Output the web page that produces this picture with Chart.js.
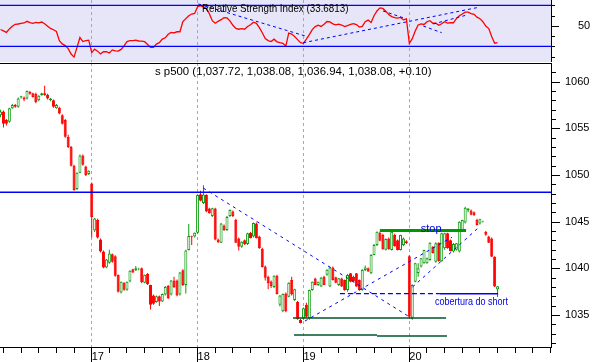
<!DOCTYPE html>
<html>
<head>
<meta charset="utf-8">
<title>s p500</title>
<script src="https://cdn.jsdelivr.net/npm/chart.js@4.4.1/dist/chart.umd.min.js"></script>
<style>
	html, body { margin: 0; padding: 0; background: #fff; }
	#wrap { position: relative; width: 593px; height: 362px; overflow: hidden; }
	#rsiCanvas { position: absolute; left: 0; top: 0; }
	#priceCanvas { position: absolute; left: 0; top: 62px; }
</style>
</head>
<body>
<div id="wrap">
	<canvas id="rsiCanvas" width="593" height="62"></canvas>
	<canvas id="priceCanvas" width="593" height="300"></canvas>
</div>
<script>
// 36 bars per day, bar 0 = first bar of the 17th
const firstBar = -31
const dayStarts = [0, 36, 72, 108]
const dayLabels = ['17', '18', '19', '20']

const opens = [
	1056.4, 1056.8, 1055.9, 1055.7, 1057.15, 1057.5, 1057.3, 1058.3, 1058.3, 1058.2, 1058.9, 1058.75, 1058.7, 1058.0, 1058.55, 1058.75, 1058.6, 1058.0, 1058.0, 1057.15, 1057.2, 1056.4, 1055.9, 1054.1, 1053.0, 1051.0, 1048.5, 1050.25, 1052.1, 1050.9, 1050.1,
	1049.1, 1044.05, 1045.2, 1043.1, 1041.8, 1040.1, 1040.6, 1041.5, 1041.3, 1039.3, 1037.4, 1038.45, 1037.7, 1038.6, 1039.9, 1039.8, 1039.9, 1040.0, 1038.45, 1039.4, 1038.2, 1037.1, 1036.4, 1037.0, 1036.45, 1037.2, 1038.1, 1037.2, 1038.7, 1038.7, 1037.2, 1039.8, 1038.2, 1041.96, 1043.46, 1043.4,
	1043.82, 1047.95, 1047.0, 1047.85, 1046.4, 1045.6, 1046.4, 1043.1, 1042.75, 1044.6, 1044.1, 1045.6, 1046.1, 1045.2, 1043.2, 1042.3, 1043.0, 1042.6, 1043.8, 1043.4, 1044.8, 1043.4, 1042.1, 1040.2, 1039.1, 1038.6, 1038.0, 1039.2, 1036.1, 1035.4, 1037.3, 1036.96, 1038.75, 1036.6, 1036.4, 1034.5,
	1034.65, 1036.1, 1034.65, 1037.68, 1038.9, 1038.22, 1038.04, 1039.1, 1039.3, 1038.04, 1040.1, 1039.05, 1038.22, 1038.9, 1038.75, 1037.68, 1039.47, 1039.1, 1039.47, 1038.75, 1037.68, 1039.82, 1040.0, 1039.47, 1041.43, 1042.5, 1043.8, 1043.6, 1042.0, 1043.2, 1041.97, 1043.6, 1043.0, 1041.97, 1042.5, 1042.9,
	1041.3, 1034.7, 1038.57, 1039.5, 1040.2, 1040.55, 1040.55, 1040.9, 1042.3, 1040.7, 1042.75, 1040.75, 1042.14, 1043.75, 1043.0, 1041.8, 1042.0, 1041.8, 1043.93, 1044.9, 1046.2, 1046.2, 1046.0, 1045.2, 1044.8, 1045.0, 1043.9, 1043.4, 1043.2, 1041.25, 1037.72
]
const highs = [
	1057.0, 1056.9, 1056.0, 1057.2, 1057.6, 1057.6, 1058.3, 1058.5, 1058.4, 1059.05, 1059.0, 1058.8, 1058.8, 1058.55, 1058.8, 1059.55, 1058.7, 1058.25, 1058.1, 1057.6, 1057.3, 1056.5, 1056.0, 1054.3, 1053.1, 1051.1, 1050.3, 1052.2, 1052.2, 1051.0, 1050.5,
	1049.2, 1045.4, 1045.3, 1043.2, 1041.9, 1041.0, 1042.0, 1041.6, 1041.4, 1039.35, 1038.6, 1038.5, 1038.6, 1039.8, 1039.95, 1040.25, 1040.05, 1040.1, 1039.35, 1039.5, 1038.25, 1037.2, 1037.1, 1037.1, 1037.3, 1038.1, 1038.2, 1038.75, 1039.1, 1038.8, 1039.6, 1039.9, 1042.0, 1044.75, 1043.5, 1043.85,
	1047.95, 1048.3, 1048.9, 1047.95, 1046.5, 1046.5, 1046.5, 1043.2, 1044.85, 1044.7, 1045.6, 1046.3, 1046.2, 1045.3, 1043.3, 1042.9, 1043.1, 1043.8, 1043.9, 1044.9, 1044.9, 1043.5, 1042.2, 1040.3, 1039.2, 1038.7, 1039.25, 1039.3, 1037.15, 1037.3, 1037.4, 1038.5, 1039.1, 1037.8, 1036.5, 1034.6,
	1035.8, 1036.3, 1037.7, 1038.6, 1039.0, 1038.6, 1039.1, 1039.2, 1039.9, 1040.2, 1040.2, 1039.1, 1038.95, 1039.0, 1038.8, 1039.4, 1039.5, 1039.2, 1039.5, 1038.8, 1039.9, 1040.3, 1040.1, 1041.5, 1042.6, 1043.95, 1043.95, 1043.7, 1043.2, 1043.3, 1043.95, 1043.7, 1043.1, 1043.6, 1043.3, 1043.0,
	1041.4, 1038.3, 1040.6, 1040.55, 1041.1, 1042.0, 1041.15, 1042.8, 1042.4, 1042.8, 1042.8, 1043.8, 1043.8, 1043.8, 1043.1, 1042.7, 1042.7, 1045.05, 1045.2, 1046.6, 1046.45, 1046.3, 1046.1, 1045.3, 1045.3, 1045.1, 1044.0, 1043.5, 1043.3, 1041.3, 1038.08
]
const lows = [
	1056.2, 1055.1, 1055.3, 1055.6, 1057.1, 1057.2, 1057.2, 1058.2, 1057.9, 1058.1, 1058.6, 1058.3, 1057.7, 1057.9, 1058.5, 1058.5, 1058.1, 1057.9, 1057.2, 1057.1, 1056.5, 1055.4, 1054.0, 1052.9, 1050.9, 1048.3, 1048.4, 1050.2, 1051.0, 1049.9, 1050.0,
	1043.3, 1043.9, 1043.2, 1041.7, 1040.0, 1040.0, 1040.5, 1040.6, 1039.1, 1037.4, 1037.3, 1037.6, 1037.6, 1038.5, 1039.5, 1039.7, 1039.8, 1038.4, 1038.4, 1038.2, 1035.6, 1036.1, 1036.3, 1035.95, 1036.4, 1037.1, 1036.7, 1037.1, 1037.9, 1037.0, 1037.1, 1038.1, 1037.3, 1041.9, 1042.5, 1043.3,
	1043.7, 1047.2, 1046.9, 1046.0, 1045.85, 1045.5, 1043.0, 1042.7, 1042.7, 1044.0, 1044.0, 1045.5, 1045.5, 1042.7, 1041.9, 1042.2, 1042.5, 1042.5, 1043.2, 1043.3, 1043.2, 1042.1, 1040.1, 1038.7, 1037.75, 1037.9, 1037.9, 1037.2, 1035.9, 1035.3, 1035.3, 1036.9, 1037.1, 1036.5, 1034.5, 1034.1,
	1034.5, 1034.7, 1034.5, 1037.6, 1038.2, 1038.1, 1038.0, 1038.2, 1039.2, 1038.0, 1038.7, 1038.4, 1038.1, 1038.0, 1037.6, 1037.5, 1038.5, 1038.55, 1038.0, 1037.6, 1037.6, 1039.7, 1039.6, 1039.4, 1041.4, 1042.4, 1042.9, 1042.0, 1041.9, 1042.0, 1041.9, 1042.3, 1041.9, 1041.9, 1042.4, 1042.6,
	1034.6, 1034.5, 1038.5, 1039.1, 1040.1, 1040.5, 1040.5, 1040.8, 1041.6, 1040.6, 1040.7, 1040.7, 1042.0, 1042.1, 1041.8, 1041.7, 1041.9, 1041.7, 1043.9, 1044.8, 1046.0, 1045.7, 1045.6, 1044.6, 1044.7, 1044.9, 1043.5, 1042.7, 1041.2, 1038.0, 1036.94
]
const closes = [
	1056.8, 1055.5, 1055.5, 1057.15, 1057.5, 1057.3, 1058.2, 1058.45, 1058.1, 1059.0, 1058.7, 1058.35, 1057.8, 1058.5, 1058.75, 1058.55, 1058.2, 1058.2, 1057.3, 1057.5, 1056.6, 1055.5, 1054.1, 1053.0, 1051.0, 1048.4, 1050.25, 1052.1, 1051.1, 1050.0, 1050.45,
	1045.5, 1045.35, 1043.3, 1041.8, 1040.1, 1040.95, 1041.6, 1040.7, 1039.2, 1037.5, 1038.55, 1037.7, 1038.55, 1039.75, 1039.55, 1040.0, 1039.95, 1038.5, 1039.3, 1038.3, 1036.1, 1036.2, 1037.0, 1036.45, 1037.25, 1038.0, 1036.8, 1038.7, 1038.0, 1037.1, 1039.55, 1038.2, 1041.9, 1043.46, 1043.39, 1043.8,
	1047.85, 1047.25, 1047.9, 1046.1, 1045.9, 1046.45, 1043.1, 1042.8, 1044.8, 1044.1, 1045.5, 1046.25, 1045.6, 1042.75, 1042.3, 1042.85, 1042.6, 1043.75, 1043.25, 1044.85, 1043.25, 1042.15, 1040.15, 1039.0, 1038.4, 1038.1, 1039.2, 1037.25, 1037.1, 1037.25, 1035.4, 1038.46, 1037.2, 1037.75, 1034.55, 1034.15,
	1035.72, 1034.8, 1037.68, 1038.57, 1038.22, 1038.57, 1039.0, 1038.22, 1039.85, 1040.1, 1038.75, 1038.45, 1038.93, 1038.04, 1037.68, 1039.29, 1038.57, 1038.6, 1038.04, 1037.68, 1039.82, 1040.1, 1039.65, 1041.43, 1042.5, 1043.93, 1042.95, 1042.05, 1043.15, 1042.05, 1043.93, 1042.4, 1041.97, 1043.57, 1043.2, 1042.7,
	1034.8, 1038.2, 1040.54, 1040.0, 1041.07, 1041.96, 1041.07, 1042.75, 1041.65, 1042.68, 1040.75, 1043.75, 1043.75, 1042.14, 1041.85, 1042.6, 1042.68, 1045.0, 1045.18, 1046.5, 1046.4, 1045.75, 1045.7, 1044.65, 1045.25, 1045.05, 1043.6, 1042.75, 1041.25, 1038.04, 1038.08
]
const rsiValues = [
	46.4, 45.1, 43.6, 47.0, 49.5, 51.5, 51.8, 52.3, 52.8, 54.4, 53.1, 52.5, 53.4, 52.9, 53.7, 52.0, 49.7, 47.5, 46.2, 44.5, 35.5, 32.4, 30.7, 27.8, 22.5, 19.5, 29.0, 38.6, 34.7, 35.5, 36.0,
	23.8, 27.2, 25.3, 22.6, 24.7, 24.7, 23.5, 26.5, 25.5, 25.3, 27.0, 30.5, 34.6, 35.5, 35.5, 36.0, 35.2, 35.0, 34.5, 31.7, 28.9, 29.0, 32.2, 33.6, 37.0, 38.3, 41.8, 43.5, 43.1, 44.2, 44.2, 54.1, 57.0, 59.8, 61.5, 62.1,
	68.7, 69.6, 68.2, 67.1, 61.8, 55.0, 52.5, 54.4, 56.0, 58.0, 57.7, 54.8, 50.5, 47.5, 46.7, 47.2, 46.7, 49.3, 51.0, 53.5, 52.5, 48.2, 43.2, 37.6, 35.6, 34.7, 37.0, 34.4, 33.6, 33.0, 30.3, 43.0, 42.0, 39.5, 36.5, 33.5,
	32.9, 37.0, 41.5, 46.3, 49.2, 50.7, 49.4, 51.6, 54.2, 53.8, 51.9, 51.0, 51.7, 50.8, 49.3, 50.3, 51.5, 52.1, 51.2, 48.8, 49.5, 54.0, 55.6, 53.3, 59.8, 64.5, 67.5, 67.0, 64.3, 61.0, 59.0, 58.0, 57.6, 58.2, 55.8, 56.8,
	33.0, 37.5, 45.0, 50.8, 51.9, 51.3, 54.0, 55.0, 52.5, 52.6, 50.5, 52.0, 54.0, 52.6, 53.0, 53.0, 57.0, 59.8, 61.5, 63.4, 63.3, 62.0, 61.2, 58.5, 57.0, 54.0, 49.8, 47.3, 39.5, 33.0, 33.7
]
const rsiLast = '33.6813'
const rsiBands = [70, 30]
const rsiTickValues = [50]
const priceTickValues = [1035, 1040, 1045, 1050, 1055, 1060]
const quote = ['1,037.72', '1,038.08', '1,036.94', '1,038.08', '+0.10']
const resistanceLevel = 1048.15

// drawn lines: [bar, value] end points
const trendFromHigh = [[37.95, 1048.6], [108.8, 1034.65]]
const trendFromLow = [[72.5, 1034.35], [122.5, 1043.33]]
const trendDay20 = [[109.1, 1038.0], [131.2, 1044.27]]
const coverDashed = [[84.4, 1037.28], [118.4, 1037.28]]
const coverSolid = [[118.4, 1037.28], [138.2, 1037.28]]
const stopLine = [[98.0, 1044.05], [127.3, 1044.05]]
const supportA = [[68.45, 1034.67], [120.5, 1034.67]]
const supportB = [[68.8, 1032.86], [97.0, 1032.86]]
const supportC = [[97.0, 1032.74], [120.8, 1032.74]]
const rsiTrends = [
	[[36.25, 71.3], [72.5, 40.2]],
	[[71.95, 33.5], [131.45, 68.0]],
	[[99.05, 64.5], [106.5, 57.3]],
	[[112.75, 49.8], [119.0, 43.3]],
	[[116.15, 51.8], [127.5, 60.5]]
]
// label anchors [bar, value]
const stopLabelAt = [111.9, 1044.27]
const coverLabelAt = [116.7, 1036.44]

var spchart = spchart || {}
spchart = (() => {
	let xMin, xMax, bars, up, fontName
	let green, red, blue, darkGreen, lavender

	let init = () => {
		xMin = -31.18
		xMax = 156.17
		fontName = '"Liberation Sans", Arial, sans-serif'
		green = '#0c9a0c'
		red = '#ff0000'
		blue = '#0000ff'
		darkGreen = '#00552a'
		lavender = '#e6e6f8'
		bars = opens.map((o, k) => firstBar + k)
		up = opens.map((o, k) => closes[k] >= o)
	}
	let pts = arr => arr.map(p => ({ x: p[0], y: p[1] }))
	let lineSet = (data, color, width, dash) => ({
		type: 'line',
		data: pts(data),
		borderColor: color,
		borderWidth: width,
		borderDash: dash || [],
		pointRadius: 0,
		fill: false,
		tension: 0,
		order: 0
	})
	let squeezeAxis = (w, h) => scale => {
		if (w) scale.width = w
		if (h) scale.height = h
		scale.paddingTop = 0
		scale.paddingBottom = 0
		scale.paddingLeft = 0
		scale.paddingRight = 0
	}
	let drawText = (ctx, text, x, y, size, color, squeeze) => {
		ctx.save()
		ctx.font = size + 'px ' + fontName
		ctx.fillStyle = color
		ctx.textBaseline = 'middle'
		ctx.textAlign = 'left'
		ctx.translate(x, y)
		ctx.scale(squeeze, 1)
		ctx.fillText(text, 0, 0)
		ctx.restore()
	}
	let dayLines = chart => {
		let { ctx, chartArea: a, scales: { x } } = chart
		ctx.save()
		ctx.strokeStyle = '#a8a8a8'
		ctx.lineWidth = 1
		ctx.setLineDash([3, 3])
		dayStarts.forEach(d => {
			let px = Math.floor(x.getPixelForValue(d)) + 0.5
			ctx.beginPath()
			ctx.moveTo(px, a.top)
			ctx.lineTo(px, a.bottom)
			ctx.stroke()
		})
		ctx.restore()
	}
	let yTicks = (chart, from, to, step, isMajor, longLen, shortLen) => {
		let { ctx, chartArea: a, scales: { y } } = chart
		ctx.save()
		ctx.strokeStyle = '#000'
		ctx.lineWidth = 1
		for (let v = from; v <= to; v += step) {
			let py = Math.round(y.getPixelForValue(v)) + 0.5
			let len = isMajor(v) ? longLen : shortLen
			ctx.beginPath()
			ctx.moveTo(a.right + 1, py)
			ctx.lineTo(a.right + 1 + len, py)
			ctx.stroke()
		}
		ctx.restore()
	}
	let rsiDecor = {
		id: 'rsiDecor',
		beforeDatasetsDraw: chart => {
			let { ctx, chartArea: a } = chart
			ctx.save()
			ctx.fillStyle = lavender
			ctx.fillRect(a.left, a.top, a.right - a.left, a.bottom - a.top)
			ctx.restore()
			dayLines(chart)
		},
		afterDraw: chart => {
			yTicks(chart, 20, 70, 10, v => v === 50, 7, 3)
			drawText(chart.ctx, 'Relative Strength Index (' + rsiLast + ')', 202, 9, 11, '#000', 0.89)
		}
	}
	let priceDecor = {
		id: 'priceDecor',
		beforeDatasetsDraw: chart => {
			dayLines(chart)
		},
		afterDraw: chart => {
			let { ctx, chartArea: a, scales: { x, y } } = chart
			ctx.save()
			ctx.strokeStyle = '#000'
			ctx.lineWidth = 1
			ctx.beginPath()
			ctx.moveTo(a.left, a.top + 0.5)
			ctx.lineTo(a.right + 1, a.top + 0.5)
			ctx.stroke()
			for (let t = -30; t <= xMax; t += 6) {
				let px = Math.floor(x.getPixelForValue(t)) + 0.5
				let major = dayStarts.indexOf(t) >= 0
				ctx.beginPath()
				ctx.moveTo(px, a.bottom + 1)
				ctx.lineTo(px, major ? chart.height : a.bottom + 6)
				ctx.stroke()
			}
			ctx.restore()
			yTicks(chart, 1032, 1061, 1, v => v % 5 === 0, 8, 4)
			drawText(ctx, 's p500 (' + quote.join(', ') + ')', 155, 10, 11.4, '#000', 1)
			drawText(ctx, 'stop', x.getPixelForValue(stopLabelAt[0]), y.getPixelForValue(stopLabelAt[1]), 11, '#0000dd', 1)
			drawText(ctx, 'cobertura do short', x.getPixelForValue(coverLabelAt[0]), y.getPixelForValue(coverLabelAt[1]), 11, '#0000dd', 0.82)
		}
	}
	let tickFont = () => ({ family: fontName, size: 11 })

	let drawRsi = () => {
		let datasets = rsiBands.map(v => lineSet([[xMin, v], [xMax, v]], blue, 1.2))
		rsiTrends.forEach(t => datasets.push(lineSet(t, blue, 1, [3, 3])))
		datasets.push(lineSet(bars.map((b, k) => [b, rsiValues[k]]), red, 1.3))
		new Chart(document.getElementById('rsiCanvas'), {
			type: 'line',
			data: { datasets: datasets },
			options: {
				responsive: false,
				animation: false,
				layout: { padding: 0 },
				plugins: { legend: { display: false }, tooltip: { enabled: false } },
				scales: {
					x: { type: 'linear', min: xMin, max: xMax, display: false },
					y: {
						type: 'linear', position: 'right', min: 14.71, max: 75.2,
						grid: { display: false, drawTicks: false },
						border: { display: true, color: '#000', width: 1 },
						afterBuildTicks: s => { s.ticks = rsiTickValues.map(v => ({ value: v })) },
						afterFit: squeezeAxis(42, 0),
						ticks: { padding: 27, color: '#000', font: tickFont(), callback: v => String(v) }
					}
				}
			},
			plugins: [rsiDecor]
		})
	}
	let drawPrice = () => {
		let wicks = {
			type: 'bar',
			data: bars.map((b, k) => ({ x: b, y: [lows[k], highs[k]] })),
			backgroundColor: c => up[c.dataIndex] ? green : red,
			borderWidth: 0,
			barThickness: 1,
			grouped: false,
			inflateAmount: 0,
			order: 2
		}
		let bodies = {
			type: 'bar',
			data: bars.map((b, k) => ({ x: b, y: [opens[k], closes[k]] })),
			backgroundColor: c => up[c.dataIndex] ? '#ffffff' : red,
			borderColor: c => up[c.dataIndex] ? green : red,
			borderWidth: 1,
			borderSkipped: false,
			barThickness: 3,
			grouped: false,
			inflateAmount: 0,
			order: 1
		}
		let datasets = [
			wicks,
			bodies,
			lineSet([[xMin, resistanceLevel], [xMax, resistanceLevel]], blue, 1.3),
			lineSet(trendFromHigh, blue, 1, [3, 4]),
			lineSet(trendFromLow, blue, 1, [3, 4]),
			lineSet(trendDay20, blue, 1, [3, 4]),
			lineSet(coverDashed, blue, 1.3, [5, 3]),
			lineSet(coverSolid, blue, 1.6),
			lineSet(stopLine, '#009a00', 3),
			lineSet(supportA, darkGreen, 1.5),
			lineSet(supportB, darkGreen, 1.5),
			lineSet(supportC, darkGreen, 1.5)
		]
		new Chart(document.getElementById('priceCanvas'), {
			type: 'bar',
			data: { datasets: datasets },
			options: {
				responsive: false,
				animation: false,
				layout: { padding: { top: 1, left: 0, right: 0, bottom: 0 } },
				plugins: { legend: { display: false }, tooltip: { enabled: false } },
				scales: {
					x: {
						type: 'linear', position: 'bottom', min: xMin, max: xMax, offset: false,
						grid: { display: false, drawTicks: false },
						border: { display: true, color: '#000', width: 1 },
						afterBuildTicks: s => { s.ticks = dayStarts.map(v => ({ value: v })) },
						afterFit: squeezeAxis(0, 15),
						ticks: {
							autoSkip: false, maxRotation: 0, align: 'start', padding: 3,
							color: '#000', font: tickFont(),
							callback: (v, i) => dayLabels[i]
						}
					},
					y: {
						type: 'linear', position: 'right', min: 1031.57, max: 1062.0,
						grid: { display: false, drawTicks: false },
						border: { display: true, color: '#000', width: 1 },
						afterBuildTicks: s => { s.ticks = priceTickValues.map(v => ({ value: v })) },
						afterFit: squeezeAxis(42, 0),
						ticks: { padding: 14, color: '#000', font: tickFont(), callback: v => String(v) }
					}
				}
			},
			plugins: [priceDecor]
		})
	}
	let onCreate = () => {
		init()
		drawRsi()
		drawPrice()
	}
	return { onCreate }
})()
spchart.onCreate()
</script>
</body>
</html>
